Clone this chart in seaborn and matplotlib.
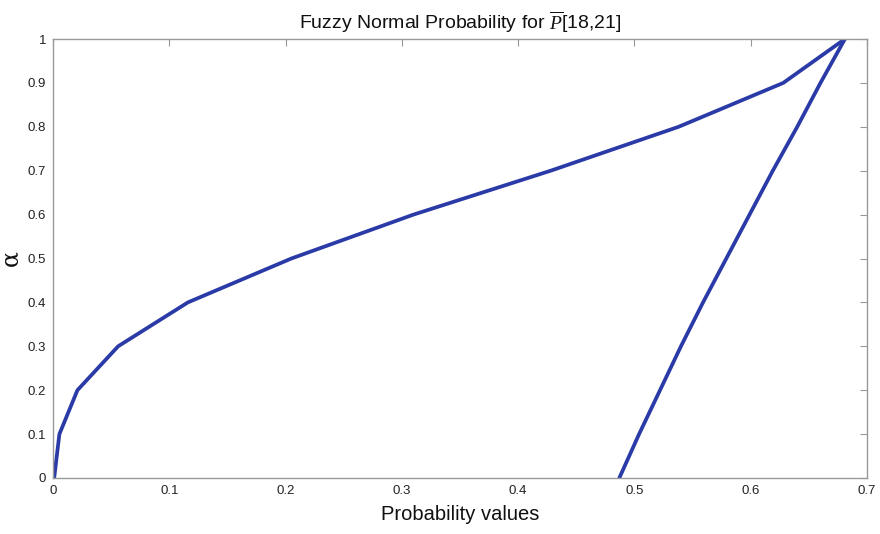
import matplotlib
matplotlib.use("Agg")
import matplotlib.pyplot as plt
import numpy as np
import pandas as pd
import seaborn as sns

# alpha-cut levels and the lower/upper ends of each cut
alpha_levels = [0.0, 0.1, 0.2, 0.3, 0.4, 0.5, 0.6, 0.7, 0.8, 0.9, 1.0]
lower_prob = [0.001, 0.0055, 0.021, 0.056, 0.116, 0.205, 0.310, 0.428, 0.538, 0.628, 0.681]
upper_prob = [0.487, 0.504, 0.522, 0.540, 0.559, 0.579, 0.599, 0.619, 0.640, 0.660, 0.681]

x_ticks = [0, 0.1, 0.2, 0.3, 0.4, 0.5, 0.6, 0.7]
x_tick_labels = ["0", "0.1", "0.2", "0.3", "0.4", "0.5", "0.6", "0.7"]
y_ticks = [0, 0.1, 0.2, 0.3, 0.4, 0.5, 0.6, 0.7, 0.8, 0.9, 1.0]
y_tick_labels = ["0", "0.1", "0.2", "0.3", "0.4", "0.5", "0.6", "0.7", "0.8", "0.9", "1"]

df = pd.concat([
    pd.DataFrame({"prob": lower_prob, "alpha": alpha_levels, "side": "lower"}),
    pd.DataFrame({"prob": upper_prob, "alpha": alpha_levels, "side": "upper"}),
])

sns.set_theme(style="white")
plt.rcParams["font.family"] = ["Liberation Sans", "DejaVu Sans"]
plt.rcParams["mathtext.fontset"] = "custom"
plt.rcParams["mathtext.it"] = "Liberation Serif:italic"
plt.rcParams["mathtext.rm"] = "Liberation Sans"

fig = plt.figure(figsize=(8.8, 5.34), dpi=100)
ax = fig.add_axes([53 / 880, 1 - 478 / 534, (867 - 53) / 880, (478 - 39) / 534])

line_color = "#2a3aa6"
sns.lineplot(data=df, x="prob", y="alpha", units="side", estimator=None,
             sort=False, color=line_color, linewidth=2.7, ax=ax, legend=False)

ax.set_xlim(0, 0.7)
ax.set_ylim(0, 1)
ax.set_xticks(x_ticks)
ax.set_xticklabels(x_tick_labels)
ax.set_yticks(y_ticks)
ax.set_yticklabels(y_tick_labels)

spine_color = "#999999"
for s in ax.spines.values():
    s.set_visible(True)
    s.set_color(spine_color)
    s.set_linewidth(1.0)

ax.tick_params(axis="both", which="both", direction="in", length=5, width=0.8,
               color=spine_color, labelsize=9.5, labelcolor="#222222",
               top=True, right=True, pad=5)

ax.set_xlabel("Probability values", fontsize=14.5, color="#111111", labelpad=6)
ax.set_ylabel("α", fontsize=17, color="#111111", labelpad=4,
              family=["DejaVu Serif", "DejaVu Sans"])
ax.set_title(r"Fuzzy Normal Probability for $\overline{P}$[18,21]",
             fontsize=14, color="#111111", pad=7)

fig.savefig("out.png", dpi=100)
